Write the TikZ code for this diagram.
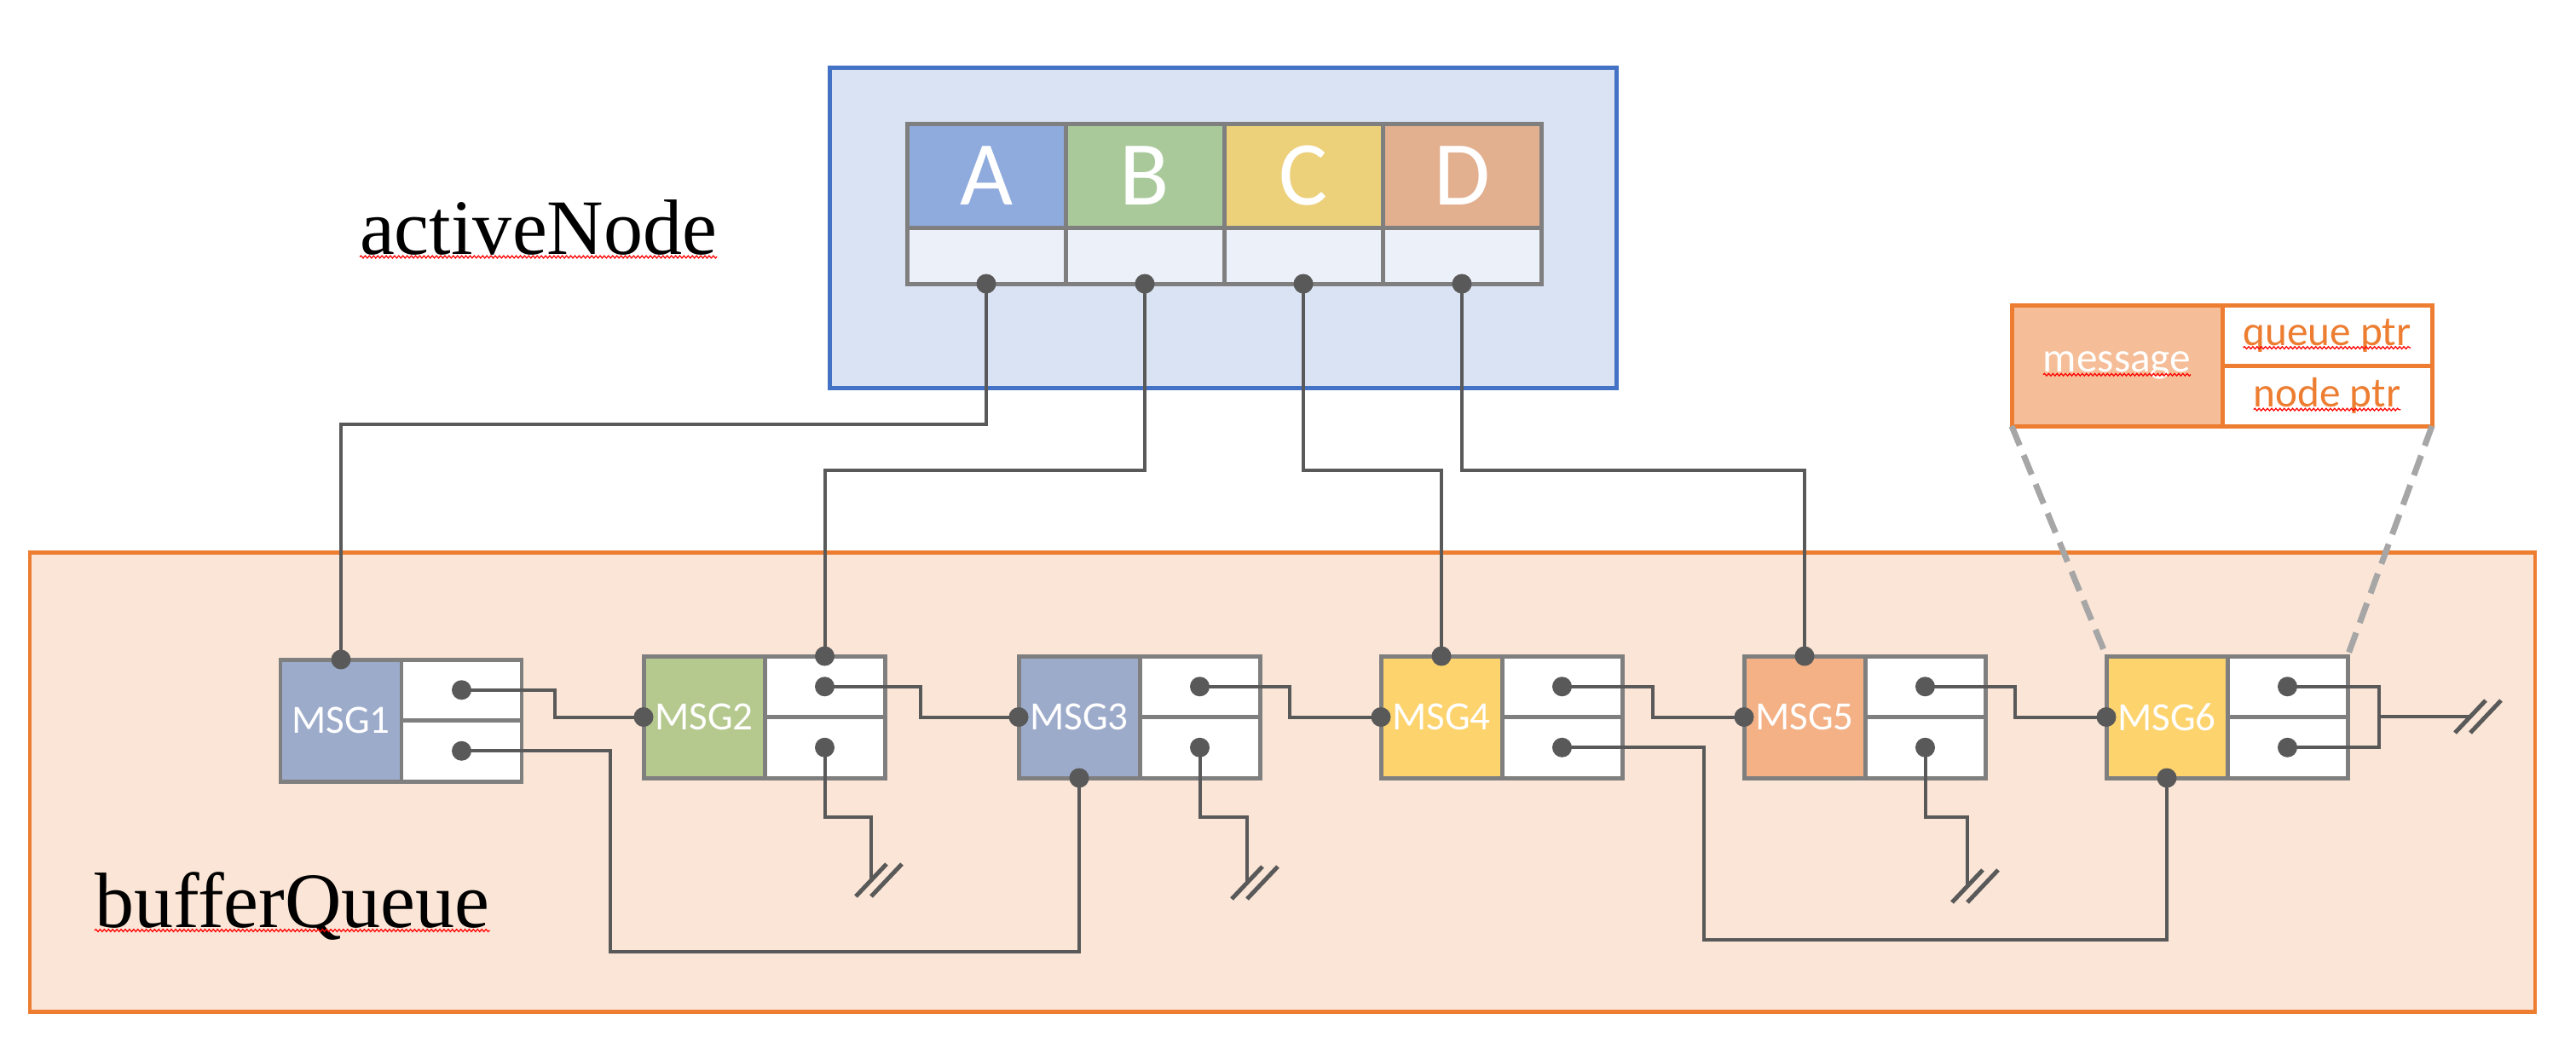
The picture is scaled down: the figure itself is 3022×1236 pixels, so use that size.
\documentclass[tikz,border=0pt]{standalone}
\usepackage{fontspec}
\setmainfont{Liberation Serif}
\newfontfamily\carlito{Carlito}
\usetikzlibrary{calc,decorations.pathmorphing}
\definecolor{blueB}{HTML}{4472C4}
\definecolor{blueF}{HTML}{DAE3F3}
\definecolor{orB}{HTML}{ED7D31}
\definecolor{orF}{HTML}{FBE5D6}
\definecolor{gridG}{HTML}{7F7F7F}
\definecolor{connG}{HTML}{595959}
\definecolor{zoomG}{HTML}{A6A6A6}
\definecolor{cA}{HTML}{8FAADC}
\definecolor{cB}{HTML}{A9C99B}
\definecolor{cC}{HTML}{ECD07A}
\definecolor{cD}{HTML}{E2AF8F}
\definecolor{cP}{HTML}{ECF0F9}
\definecolor{mBlue}{HTML}{9DABCB}
\definecolor{mGreen}{HTML}{B5C98E}
\definecolor{mYellow}{HTML}{FDD36E}
\definecolor{mOrange}{HTML}{F3B185}
\definecolor{legF}{HTML}{F5BE98}
\tikzset{
 box/.style={rectangle, inner sep=0pt, outer sep=0pt, anchor=north west},
 cell/.style={box, draw=gridG, line width=1.42pt},
 letter/.style={cell, minimum width=18.6mm, minimum height=12.2mm, text=white, font=\carlito\fontsize{30.5pt}{36pt}\selectfont},
 ptrcell/.style={cell, fill=cP, minimum width=18.6mm, minimum height=6.6mm},
 msgl/.style={cell, minimum width=14.2mm, minimum height=14.3mm, text=white, font=\carlito\fontsize{13.4pt}{16pt}\selectfont},
 msgr/.style={cell, fill=white, minimum width=14.1mm, minimum height=7.15mm},
 legcell/.style={box, draw=orB, line width=1.42pt},
 legtext/.style={inner sep=0pt, outer sep=0pt, font=\carlito\fontsize{14pt}{17pt}\selectfont},
 conn/.style={draw=connG, line width=1.14pt},
 dot/.style={fill=connG},
 brkline/.style={draw=connG, line width=1.42pt},
 zoomline/.style={draw=zoomG, line width=2pt, dash pattern=on 7pt off 3.5pt},
 title/.style={inner sep=0pt, outer sep=0pt, anchor=base west, font=\fontsize{26.2pt}{31pt}\selectfont},
 squiggle/.style={draw=red, line width=0.35pt, decorate, decoration={snake, amplitude=0.4pt, segment length=1.4pt}},
 bigbox/.style={box, line width=1.42pt},
}
\newcommand\MsgBox[5]{%
 \node[msgl, fill=#4] (#1) at (#2,#3) {#5};
 \node[msgr] (#1q) at (#1.north east) {};
 \node[msgr] (#1n) at (#1q.south west) {};
}
\newcommand\BrkMark[1]{%
 \draw[brkline] ([shift={(-18,19)}]#1) -- ([shift={(18,-19)}]#1);
 \draw[brkline] ([shift={(0,19)}]#1) -- ([shift={(36,-19)}]#1);
}
\begin{document}
\begin{tikzpicture}[x=0.1mm, y=-0.1mm]
\useasboundingbox (0,0) rectangle (3022,1236);
% containers
\node[bigbox, draw=orB, fill=orF, minimum width=293.9mm, minimum height=53.9mm] (queueBox) at (35,648) {};
\node[bigbox, draw=blueB, fill=blueF, minimum width=92.3mm, minimum height=37.6mm] (activeBox) at (973,79) {};
% titles
\node[title] (tActive) at (422,298) {activeNode};
\node[title] (tBuffer) at (111,1088) {bufferQueue};
\draw[squiggle] ([yshift=-0.35mm]tActive.base west) -- ([yshift=-0.35mm]tActive.base east);
\draw[squiggle] ([yshift=-0.4mm]tBuffer.base west) -- ([yshift=-0.4mm]tBuffer.base east);
% activeNode table
\node[letter, fill=cA] (A) at (1064,145) {A};
\node[letter, fill=cB] (B) at (A.north east) {B};
\node[letter, fill=cC] (C) at (B.north east) {C};
\node[letter, fill=cD] (D) at (C.north east) {D};
\node[ptrcell] (pA) at (A.south west) {};
\node[ptrcell] (pB) at (B.south west) {};
\node[ptrcell] (pC) at (C.south west) {};
\node[ptrcell] (pD) at (D.south west) {};
% legend
\node[legcell, fill=legF, minimum width=24.7mm, minimum height=14.2mm] (leg) at (2360,358) {};
\node[legcell, fill=white, minimum width=24.6mm, minimum height=7.1mm] (legq) at (leg.north east) {};
\node[legcell, fill=white, minimum width=24.6mm, minimum height=7.1mm] (legn) at (legq.south west) {};
\node[legtext, text=white] (tm) at (leg.center) {message};
\node[legtext, text=orB] (tq) at (legq.center) {queue ptr};
\node[legtext, text=orB] (tn) at (legn.center) {node ptr};
\draw[squiggle] ([yshift=-0.3mm]tm.base west) -- ([yshift=-0.3mm]tm.base east);
\draw[squiggle] ([yshift=-0.3mm]tq.base west) -- ([yshift=-0.3mm]tq.base east);
\draw[squiggle] ([yshift=-0.3mm]tn.base west) -- ([yshift=-0.3mm]tn.base east);
% messages
\MsgBox{m1}{329}{774}{mBlue}{MSG1}
\MsgBox{m2}{755}{770}{mGreen}{MSG2}
\MsgBox{m3}{1195}{770}{mBlue}{MSG3}
\MsgBox{m4}{1620}{770}{mYellow}{MSG4}
\MsgBox{m5}{2046}{770}{mOrange}{MSG5}
\MsgBox{m6}{2471}{770}{mYellow}{MSG6}
% zoom lines
\draw[zoomline] (leg.south west) -- (m6.north west);
\draw[zoomline] (legn.south east) -- (m6q.north east);
% activeNode pointers
\draw[conn] (pA.south) -- ++(0,165) -| (m1.north);
\draw[conn] (pB.south) -- ++(0,219) -| (m2q.north);
\draw[conn] (pC.south) -- ++(0,219) -| (m4.north);
\draw[conn] (pD.south) -- ++(0,219) -| (m5.north);
% queue pointers
\draw[conn] (m1q.center) -- ([xshift=3.9mm]m1q.east) |- (m2.west);
\draw[conn] (m2q.center) -- ([xshift=4.2mm]m2q.east) |- (m3.west);
\draw[conn] (m3q.center) -- ([xshift=3.5mm]m3q.east) |- (m4.west);
\draw[conn] (m4q.center) -- ([xshift=3.6mm]m4q.east) |- (m5.west);
\draw[conn] (m5q.center) -- ([xshift=3.5mm]m5q.east) |- (m6.west);
% node pointers
\coordinate (low1) at (716,1117);
\draw[conn] (m1n.center) -| (low1) -| (m3.south);
\coordinate (low2) at (1999,1103);
\draw[conn] (m4n.center) -| (low2) -| (m6.south);
\coordinate (brk2) at (1022,1033);
\coordinate (brk3) at (1463,1036);
\coordinate (brk5) at (2308,1040);
\draw[conn] (m2n.center) -- ++(0,82) -| (brk2);
\draw[conn] (m3n.center) -- ++(0,82) -| (brk3);
\draw[conn] (m5n.center) -- ++(0,82) -| (brk5);
\coordinate (j6) at (2791,841);
\coordinate (brk6) at (2898,841);
\draw[conn] (m6q.center) -| (j6) |- (m6n.center);
\draw[conn] (j6) -- (brk6);
\BrkMark{brk2}
\BrkMark{brk3}
\BrkMark{brk5}
\BrkMark{brk6}
% dots
\foreach \p in {pA.south,pB.south,pC.south,pD.south,m1.north,m2q.north,m4.north,m5.north,
  m1q.center,m1n.center,m2q.center,m2n.center,m3q.center,m3n.center,
  m4q.center,m4n.center,m5q.center,m5n.center,m6q.center,m6n.center,
  m2.west,m3.west,m4.west,m5.west,m6.west,m3.south,m6.south}
  \fill[dot] (\p) circle[radius=1.15mm];
\end{tikzpicture}
\end{document}
